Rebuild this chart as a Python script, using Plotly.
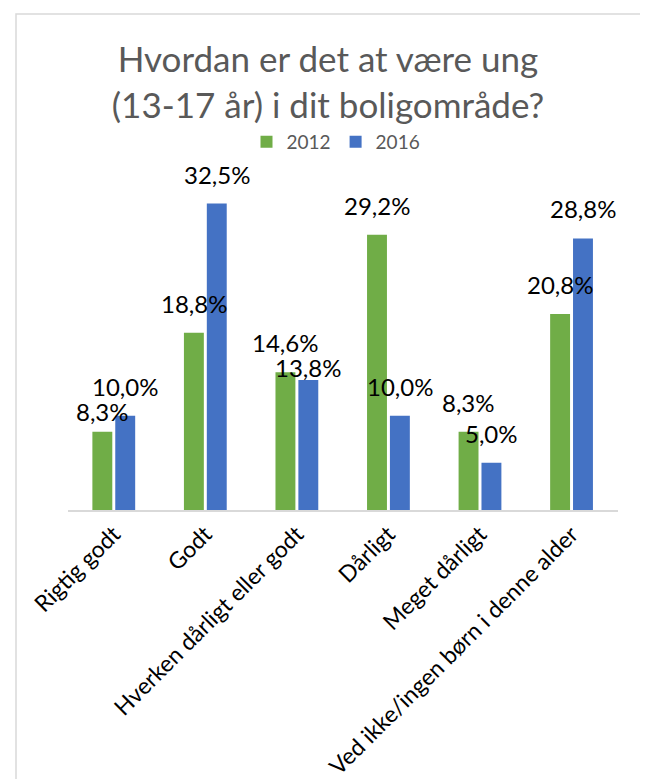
import plotly.graph_objects as go

categories = ["Rigtig godt", "Godt", "Hverken dårligt eller godt", "Dårligt",
              "Meget dårligt", "Ved ikke/ingen børn i denne alder"]
values_2012 = [8.3, 18.8, 14.6, 29.2, 8.3, 20.8]
values_2016 = [10.0, 32.5, 13.8, 10.0, 5.0, 28.8]
series_names = ["2012", "2016"]
title_text = "Hvordan er det at være ung<br>(13-17 år) i dit boligområde?"

FONT = "Lato, 'Open Sans', sans-serif"
colors = ["#70ad47", "#4472c4"]


def fmt(v):
    return f"{v:.1f}%".replace(".", ",")


W, H = 640, 771
L, R, T, B = 60, 30, 172, 269
YMAX = 35
BARGAP, GROUPGAP = 0.5, 0.13
plot_w = W - L - R
plot_h = H - T - B
px2x = lambda p: (p - L) / plot_w
px2y = lambda p: ((H - B) - p) / plot_h

fig = go.Figure()
for name, vals, col in zip(series_names, [values_2012, values_2016], colors):
    fig.add_trace(go.Bar(
        x=categories, y=vals, name=name,
        marker=dict(color=col, line=dict(width=0)),
        hoverinfo="skip",
    ))

# data labels (Excel-like: ~19px above the bar, nudged down when two labels collide)
scale = plot_h / YMAX           # px per unit
slot = plot_w / len(categories) * (1 - BARGAP) / 2
GAP, MINSEP, DESC = 19, 25, 6
for i, cat in enumerate(categories):
    v = [values_2012[i], values_2016[i]]
    base = [vv * scale + GAP for vv in v]      # baseline height above axis (px)
    lo, hi = (0, 1) if base[0] < base[1] else (1, 0)
    if base[hi] - base[lo] < MINSEP:
        base[lo] = base[hi] - MINSEP
    for s in range(2):
        fig.add_annotation(
            x=cat, y=v[s], xref="x", yref="y", text=fmt(v[s]), showarrow=False,
            xanchor="center", yanchor="bottom",
            xshift=(-1 if s == 0 else 1) * slot / 2,
            yshift=base[s] - v[s] * scale - DESC,
            font=dict(family=FONT, size=24, color="#000000"),
        )

fig.update_layout(
    width=W, height=H,
    margin=dict(l=L, r=R, t=T, b=B, pad=0, autoexpand=False),
    paper_bgcolor="white", plot_bgcolor="white",
    barmode="group", bargap=BARGAP, bargroupgap=GROUPGAP,
    title=dict(text=title_text, x=0.5, xanchor="center", y=1 - 64 / H, yanchor="middle",
               font=dict(family=FONT, size=35, color="#595959")),
    legend=dict(orientation="h", x=px2x(328), xanchor="center", y=px2y(134),
                yanchor="middle", font=dict(family=FONT, size=19, color="#595959"),
                traceorder="normal", bgcolor="rgba(0,0,0,0)", itemwidth=30),
    showlegend=True,
    font=dict(family=FONT),
    yaxis=dict(range=[0, YMAX], visible=False, showgrid=False, zeroline=False,
               automargin=False),
    xaxis=dict(showline=True, linecolor="#d9d9d9", linewidth=1.5, ticks="",
               tickangle=-45, tickfont=dict(family=FONT, size=23, color="#000000"),
               showgrid=False, zeroline=False, automargin=False,
               categoryorder="array", categoryarray=categories),
)

# outer chart border
fig.add_shape(type="rect", xref="paper", yref="paper",
              x0=px2x(8), x1=px2x(636), y0=px2y(800), y1=px2y(6),
              line=dict(color="#d9d9d9", width=1.5), fillcolor="rgba(0,0,0,0)", layer="below")

fig.write_html("out.html")
